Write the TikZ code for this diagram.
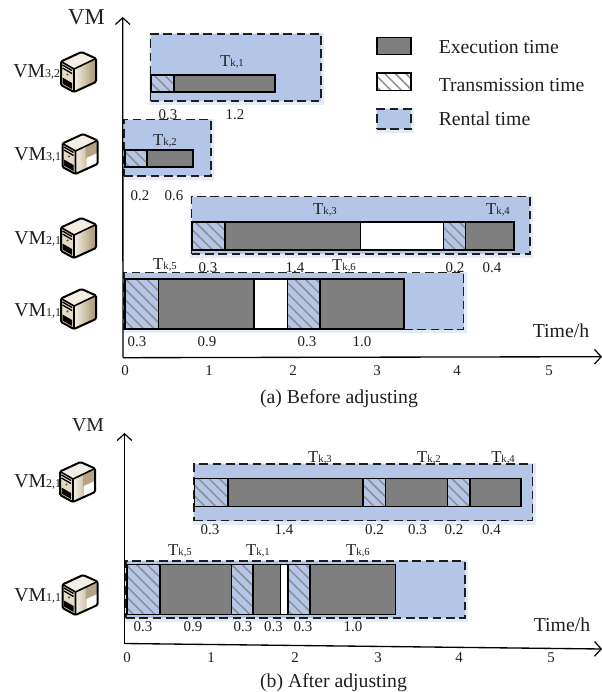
\documentclass[tikz,border=0pt]{standalone}
\usepackage{fontspec}
\setmainfont{Liberation Serif}
\usetikzlibrary{arrows.meta,patterns.meta}
\definecolor{rentblue}{HTML}{B4C6E7}
\definecolor{rentglow}{HTML}{E6ECF7}
\definecolor{execgray}{HTML}{7F7F7F}
\definecolor{inkc}{HTML}{1E1E1E}
\definecolor{tanA}{HTML}{A8946E}
\definecolor{tanB}{HTML}{F4EFE4}
\definecolor{tanC}{HTML}{E4DAC4}
\tikzset{
  barbase/.style={rectangle,inner sep=0pt,outer sep=0pt,anchor=north west,draw=black,line width=1pt},
  exec/.style={barbase,fill=execgray},
  idle/.style={barbase,fill=white},
  trans/.style={barbase,fill=white,pattern={Lines[angle=-45,distance=5.6pt,line width=1.1pt]},pattern color=black!45},
  rent/.style={rectangle,inner sep=0pt,outer sep=0pt,anchor=north west,fill=rentblue,draw=inkc,line width=0.9pt,dash pattern=on 6.5pt off 3.5pt},
  glow/.style={draw=rentglow,line width=3.5pt},
  axisline/.style={draw=black,line width=1pt,-{Straight Barb[length=5pt,width=11pt,line width=0.9pt]}},
  num/.style={anchor=base,inner sep=0pt,font=\fontsize{11.2}{12}\selectfont,text=inkc},
  tlab/.style={anchor=base,inner sep=0pt,font=\fontsize{12.5}{14}\selectfont,text=inkc},
  vmlab/.style={anchor=base west,inner sep=0pt,font=\fontsize{14.8}{16}\selectfont,text=inkc},
  big/.style={anchor=base,inner sep=0pt,font=\fontsize{14.8}{16}\selectfont,text=inkc},
  legtext/.style={anchor=base west,inner sep=0pt,font=\fontsize{14.8}{16}\selectfont,text=inkc},
}
% name, style, x1, y1, x2, y2 (pixels)
\newcommand{\bx}[6]{\node[#2,minimum width={(#5-#3)*0.75pt},minimum height={(#6-#4)*0.75pt}] (#1) at (#3,#4) {};}
\newcommand{\rentbox}[5]{%
  \draw[glow] (#2+1,#3+1.5) rectangle (#4+1,#5+1.5);
  \bx{#1}{rent}{#2}{#3}{#4}{#5}}
\newcommand{\Tk}[1]{T{\fontsize{8}{9}\selectfont k,#1}}
\newcommand{\VMl}[2]{VM{\fontsize{9}{10}\selectfont #1,#2}}
% server icon: x, y (top-left), patch (0/1)
\newcommand{\srv}[3]{%
\begin{scope}[shift={(#1,#2)}]
  \shade[left color=tanB,right color=tanA] (13,17) -- (35,6.5) -- (35,30) -- (13,40) -- cycle;
  \ifnum#3=1
    \fill[tanA!85!white] (23,12.2) -- (35,6.5) -- (35,19) -- (23,24.5) -- cycle;
    \fill[white] (24,24) -- (35,19) -- (35,30) -- (24,35) -- cycle;
  \fi
  \fill[tanC!45!white] (0,9.5) -- (20.5,0) -- (35,6.5) -- (13,17) -- cycle;
  \fill[tanC] (0,9.5) -- (13,17) -- (13,40) -- (0,33) -- cycle;
  \draw[line width=1pt] (1.5,13) -- (11,18.5) (1.5,16) -- (11,21.5);
  \fill[black] (1.5,25.5) -- (11,31) -- (11,37) -- (1.5,31.5) -- cycle;
  \fill[black!70] (6.5,22.5) circle (1.1);
  \draw[black,line width=1.2pt,line join=round] (0,9.5) -- (13,17) -- (35,6.5) (13,17) -- (13,40);
  \draw[black,line width=1.5pt,rounded corners=1pt] (0,9.5) -- (20.5,0) -- (35,6.5) -- (35,30) -- (13,40) -- (0,33) -- cycle;
\end{scope}}
\begin{document}
\begin{tikzpicture}[x=0.75pt,y=-0.75pt]
\useasboundingbox (0,0) rectangle (602,692);
% ---- panel (a) rentals
\rentbox{ra1}{150.5}{34}{321}{101}
\rentbox{ra2}{124}{119.5}{211}{176}
\rentbox{ra3}{191.5}{196.7}{530}{254}
\rentbox{ra4}{124}{272.7}{463.7}{329.5}
% bars (a)
\bx{a1t}{trans}{151}{75}{174}{92}
\bx{a1e}{exec}{174}{75}{275}{92}
\bx{a2t}{trans}{125}{150}{147}{167}
\bx{a2e}{exec}{147}{150}{193}{167}
\bx{a3t}{trans}{192}{222}{225}{250}
\bx{a3e}{exec}{225}{222}{360.7}{250}
\bx{a3i}{idle}{360.7}{222}{443.6}{250}
\bx{a4t}{trans}{443.6}{222}{465.5}{250}
\bx{a4e}{exec}{465.5}{222}{514}{250}
\bx{a5t}{trans}{125}{279}{158.5}{329}
\bx{a5e}{exec}{158.5}{279}{254}{329}
\bx{a5i}{idle}{254}{279}{287.5}{329}
\bx{a6t}{trans}{287.5}{279}{320}{329}
\bx{a6e}{exec}{320}{279}{404}{329}
% axes (a)
\coordinate (aO) at (123,357.7);
\coordinate (aY) at (122.7,17);
\coordinate (aX) at (602,356.7);
\draw[axisline] (aO) -- (aY);
\draw[axisline] (aO) -- (aX);
% labels (a)
\node[anchor=base,inner sep=0pt,font=\fontsize{17}{18}\selectfont,text=inkc] (avm) at (86.5,25) {VM};
\node[tlab] (t1) at (232,67) {\Tk{1}};
\node[tlab] (t2) at (165,145) {\Tk{2}};
\node[tlab] (t3) at (325,214) {\Tk{3}};
\node[tlab] (t4) at (498,214) {\Tk{4}};
\node[tlab] (t5) at (165,269) {\Tk{5}};
\node[tlab] (t6) at (344,270) {\Tk{6}};
\foreach \n/\x/\y/\t in {a/168/119/0.3,b/235/119/1.2,c/140/200/0.2,d/174/200/0.6,e/208/272/0.3,f/295/272/1.4,g/455/272/0.2,h/492/272/0.4,i/137/346/0.3,j/207/346/0.9,k/307/346/0.3,l/362/346/1.0}
  \node[num] (an\n) at (\x,\y) {\t};
\foreach \t/\x in {0/125,1/209,2/293,3/377,4/457,5/549}
  \node[num] (at\t) at (\x,375.5) {\t};
\node[big] (atime) at (561,337) {Time/h};
\node[big] (acap) at (339,403) {(a) Before adjusting};
% icons (a)
\node[vmlab] (v32) at (13,78) {\VMl{3}{2}};
\node[vmlab] (v31) at (14,160) {\VMl{3}{1}};
\node[vmlab] (v21) at (14,244) {\VMl{2}{1}};
\node[vmlab] (v11) at (14,316) {\VMl{1}{1}};
\srv{61}{52}{0}
\srv{62.5}{134}{1}
\srv{61}{218}{0}
\srv{61}{289}{0}
% legend
\bx{l1}{exec}{377}{37.5}{411}{54.5}
\bx{l2}{trans}{377}{73}{411}{90.5}
\rentbox{l3}{377}{109}{411}{129}
\node[legtext] (lt1) at (438.5,53.3) {Execution time};
\node[legtext] (lt2) at (438.5,92) {Transmission time};
\node[legtext] (lt3) at (438.5,125) {Rental time};
% ---- panel (b)
\rentbox{rb1}{194}{464}{532.7}{520.7}
\rentbox{rb2}{126}{561}{465}{618}
\bx{b1t}{trans}{194.5}{478.7}{228}{506.7}
\bx{b1e}{exec}{228}{478.7}{363}{506.7}
\bx{b2t}{trans}{363}{478.7}{385.5}{506.7}
\bx{b2e}{exec}{385.5}{478.7}{447.5}{506.7}
\bx{b3t}{trans}{447.5}{478.7}{470}{506.7}
\bx{b3e}{exec}{470}{478.7}{521}{506.7}
\bx{b4t}{trans}{127}{564.3}{160}{614.3}
\bx{b4e}{exec}{160}{564.3}{231.5}{614.3}
\bx{b5t}{trans}{231.5}{564.3}{253}{614.3}
\bx{b5e}{exec}{253}{564.3}{280.5}{614.3}
\bx{b5i}{idle}{280.5}{564.3}{288}{614.3}
\bx{b6t}{trans}{288}{564.3}{310}{614.3}
\bx{b6e}{exec}{310}{564.3}{395.5}{614.3}
\coordinate (bO) at (124.5,643.5);
\coordinate (bY) at (124.5,433);
\coordinate (bX) at (602,649);
\draw[axisline] (bO) -- (bY);
\draw[axisline] (bO) -- (bX);
\node[big] (bvm) at (88,431) {VM};
\node[tlab] (u3) at (320,462) {\Tk{3}};
\node[tlab] (u2) at (429,462) {\Tk{2}};
\node[tlab] (u4) at (503,462) {\Tk{4}};
\node[tlab] (u5) at (180,555) {\Tk{5}};
\node[tlab] (u1) at (258,555) {\Tk{1}};
\node[tlab] (u6) at (358,555) {\Tk{6}};
\foreach \n/\x/\y/\t in {a/210/534/0.3,b/284/534/1.4,c/374.5/534/0.2,d/417.5/534/0.3,e/454/534/0.2,f/491.5/534/0.4,g/143/631.5/0.3,h/193/631.5/0.9,i/243/631.5/0.3,j/273.5/631.5/0.3,k/303/631.5/0.3,l/353/631.5/1.0}
  \node[num] (bn\n) at (\x,\y) {\t};
\foreach \t/\x in {0/127,1/211,2/295,3/378,4/459,5/551}
  \node[num] (bt\t) at (\x,662.5) {\t};
\node[big] (btime) at (562,631) {Time/h};
\node[big] (bcap) at (333.5,687) {(b) After adjusting};
\node[vmlab] (w21) at (14,487) {\VMl{2}{1}};
\node[vmlab] (w11) at (14,601) {\VMl{1}{1}};
\srv{60}{462}{1}
\srv{62.5}{575}{1}
\end{tikzpicture}
\end{document}
